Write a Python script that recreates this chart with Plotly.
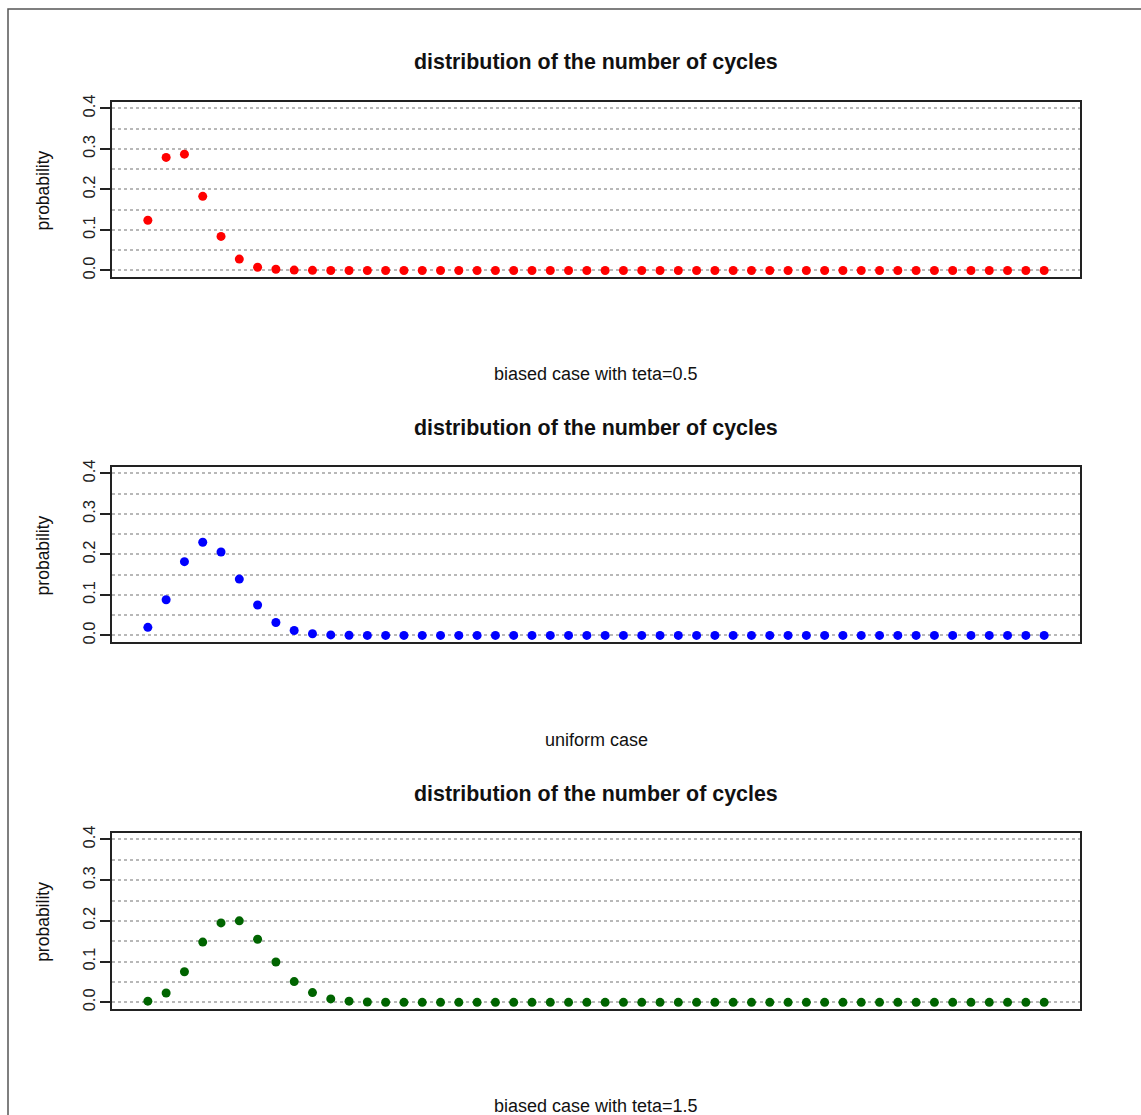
import plotly.graph_objects as go

# Number of cycles k = 1..50
cycles = list(range(1, 51))

# Probability of k cycles, three cases
prob_teta05 = [0.124, 0.279, 0.287, 0.183, 0.084, 0.028, 0.008, 0.003, 0.0008, 0.0002] + [0.0] * 40
prob_uniform = [0.020, 0.088, 0.182, 0.230, 0.206, 0.139, 0.075, 0.032, 0.012, 0.004,
                0.0012, 0.0003, 0.0001] + [0.0] * 37
prob_teta15 = [0.003, 0.023, 0.075, 0.148, 0.195, 0.200, 0.155, 0.099, 0.051, 0.024,
               0.0085, 0.003, 0.0009, 0.0002, 0.0001] + [0.0] * 35

panels = [
    (prob_teta05, "red", "biased case with teta=0.5"),
    (prob_uniform, "blue", "uniform case"),
    (prob_teta15, "darkgreen", "biased case with teta=1.5"),
]

W, H = 1141, 1115
main_title = "distribution of the number of cycles"
y_ticks = [0.0, 0.1, 0.2, 0.3, 0.4]
y_tick_text = ["0.0", "0.1", "0.2", "0.3", "0.4"]

# pixel geometry of each panel box (top, bottom) and its text rows
box_left, box_right = 112, 1080
boxes = [(101, 276), (466, 641), (832, 1008)]
title_rows = [61, 427, 793]
xlab_rows = [373, 739, 1105]


def py(px):
    # vertical pixel -> paper fraction (with a small correction of the page offset)
    q = (px - 6.06) / 0.992
    return 1 - q / H


def pxx(px):
    return px / W


fig = go.Figure()
annotations = []
font_family = "Liberation Sans, Arial, sans-serif"

for i, (vals, col, xlab) in enumerate(panels):
    n = i + 1
    xa = "x" if n == 1 else f"x{n}"
    ya = "y" if n == 1 else f"y{n}"
    fig.add_trace(go.Scatter(
        x=cycles, y=vals, mode="markers", xaxis=xa, yaxis=ya,
        marker=dict(color=col, size=9, line=dict(width=0)),
        showlegend=False, hoverinfo="x+y",
    ))
    top, bot = boxes[i]
    key_x = "xaxis" if n == 1 else f"xaxis{n}"
    key_y = "yaxis" if n == 1 else f"yaxis{n}"
    fig.update_layout(**{
        key_x: dict(
            domain=[pxx(box_left), pxx(box_right)],
            anchor=ya, range=[-0.96, 51.96],
            showticklabels=False, ticks="", showgrid=False, zeroline=False,
            showline=True, mirror=True, linecolor="#222222", linewidth=2,
        ),
        key_y: dict(
            domain=[py(bot), py(top)],
            anchor=xa, range=[-0.016, 0.416],
            tickvals=y_ticks, ticktext=y_tick_text, tickangle=-90,
            ticks="outside", ticklen=10, tickwidth=1.5, tickcolor="#222222",
            ticklabelstandoff=-2,
            tickfont=dict(family=font_family, size=16.5, color="#222222"),
            showgrid=True, gridcolor="#b8b8b8", gridwidth=1.5, griddash="3px,3px",
            minor=dict(dtick=0.05, tick0=0, showgrid=True, gridcolor="#b8b8b8",
                       gridwidth=1.5, griddash="3px,3px", ticks=""),
            zeroline=False, showline=True, mirror=True,
            linecolor="#222222", linewidth=2,
        ),
    })
    cx = pxx((box_left + box_right) / 2)
    annotations.append(dict(
        text=f"<b>{main_title}</b>", x=cx, y=py(title_rows[i]),
        xref="paper", yref="paper", showarrow=False,
        xanchor="center", yanchor="middle",
        font=dict(family=font_family, size=21.4, color="#111111"),
    ))
    annotations.append(dict(
        text=xlab, x=cx, y=py(xlab_rows[i]),
        xref="paper", yref="paper", showarrow=False,
        xanchor="center", yanchor="middle",
        font=dict(family=font_family, size=18, color="#111111"),
    ))
    annotations.append(dict(
        text="probability", x=pxx(43), y=py((top + bot) / 2 + 1),
        xref="paper", yref="paper", showarrow=False, textangle=-90,
        xanchor="center", yanchor="middle",
        font=dict(family=font_family, size=17.5, color="#111111"),
    ))

# outer frame of the device region
fig.add_shape(type="rect", xref="paper", yref="paper",
              x0=pxx(8), y0=-0.05, x1=1.05, y1=py(8),
              line=dict(color="#555555", width=1.5), layer="above")

fig.update_layout(
    width=W, height=H,
    margin=dict(l=0, r=0, t=0, b=0),
    paper_bgcolor="white", plot_bgcolor="white",
    annotations=annotations,
)

fig.write_html("out.html")
